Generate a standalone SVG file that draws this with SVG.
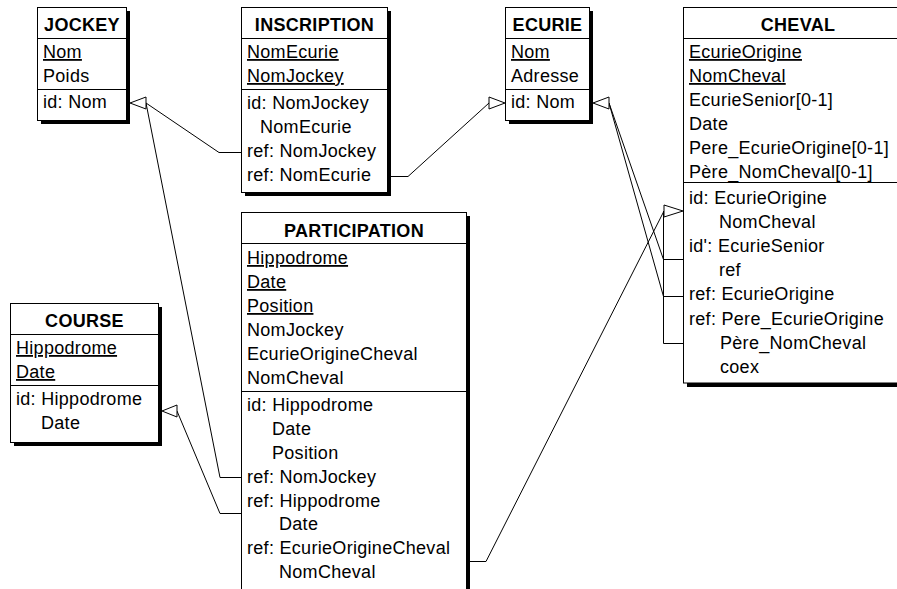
<svg xmlns="http://www.w3.org/2000/svg" width="897" height="589" viewBox="0 0 897 589">
<style>
  text { font-family: "Liberation Sans", Arial, Helvetica, sans-serif; font-size: 18px; fill: #000; letter-spacing: 0.3px; }
  .t { font-weight: bold; text-anchor: middle; }
  .u { text-decoration: underline; }
  .box { fill: #fff; stroke: #000; stroke-width: 1; }
  .sh { fill: #000; }
  .sep { stroke: #000; stroke-width: 1; fill: none; }
  #connectors path { fill: none; stroke: #000; stroke-width: 1; }
  #connectors polygon { fill: #fff; stroke: #000; stroke-width: 1; }
</style>
<rect x="0" y="0" width="897" height="589" fill="#fff"/>

<g id="connectors">
  <path d="M241,152.5 H219 L146,103"/>
  <path d="M241,477.5 H220 L146,103"/>
  <path d="M391,176.5 H408 L489,103"/>
  <path d="M683,259.5 H663.5 L609,103"/>
  <path d="M683,296.5 H663.5 L609,103"/>
  <path d="M683,343.5 H663.5 V211"/>
  <path d="M470,561.5 H486 L664,211"/>
  <path d="M241,513.5 H220 L177,411"/>
  <polygon points="130,103 146,97 146,109"/>
  <polygon points="505,103 489,97 489,109"/>
  <polygon points="593,103 609,97 609,109"/>
  <polygon points="683,211 664,205 664,217"/>
  <polygon points="162,411 177,405 177,417"/>
</g>

<g id="jockey">
  <rect class="sh" x="41" y="11" width="89" height="113"/>
  <rect class="box" x="37.5" y="7.5" width="89" height="113"/>
  <path class="sep" d="M37.5,38.5 H126.5 M37.5,89.5 H126.5"/>
  <text class="t" x="82" y="31">JOCKEY</text>
  <text class="u" x="43" y="58">Nom</text>
  <text x="43" y="82">Poids</text>
  <text x="43" y="108">id: Nom</text>
</g>

<g id="inscription">
  <rect class="sh" x="245" y="11" width="146" height="185"/>
  <rect class="box" x="241.5" y="7.5" width="146" height="185"/>
  <path class="sep" d="M241.5,38.5 H387.5 M241.5,89.5 H387.5"/>
  <text class="t" x="314.5" y="31">INSCRIPTION</text>
  <text class="u" x="247" y="58">NomEcurie</text>
  <text class="u" x="247" y="82">NomJockey</text>
  <text x="247" y="108.5">id: NomJockey</text>
  <text x="260" y="132.7">NomEcurie</text>
  <text x="247" y="157">ref: NomJockey</text>
  <text x="247" y="181">ref: NomEcurie</text>
</g>

<g id="ecurie">
  <rect class="sh" x="509" y="11" width="84" height="113"/>
  <rect class="box" x="505.5" y="7.5" width="84" height="113"/>
  <path class="sep" d="M505.5,38.5 H589.5 M505.5,89.5 H589.5"/>
  <text class="t" x="547.5" y="31">ECURIE</text>
  <text class="u" x="511" y="58">Nom</text>
  <text x="511" y="82">Adresse</text>
  <text x="511" y="108">id: Nom</text>
</g>

<g id="cheval">
  <rect class="sh" x="687" y="11" width="230" height="376"/>
  <rect class="box" x="683.5" y="7.5" width="230" height="375.5"/>
  <path class="sep" d="M683.5,38.5 H913.5 M683.5,182.5 H913.5"/>
  <text class="t" x="798" y="31">CHEVAL</text>
  <text class="u" x="689" y="58">EcurieOrigine</text>
  <text class="u" x="689" y="82">NomCheval</text>
  <text x="689" y="106">EcurieSenior[0-1]</text>
  <text x="689" y="130">Date</text>
  <text x="689" y="154">Pere_EcurieOrigine[0-1]</text>
  <text x="689" y="178">Père_NomCheval[0-1]</text>
  <text x="689" y="203.5">id: EcurieOrigine</text>
  <text x="719" y="227.7">NomCheval</text>
  <text x="689" y="251.9">id': EcurieSenior</text>
  <text x="719" y="276.1">ref</text>
  <text x="689" y="300.3">ref: EcurieOrigine</text>
  <text x="689" y="324.5">ref: Pere_EcurieOrigine</text>
  <text x="720" y="348.7">Père_NomCheval</text>
  <text x="720" y="372.9">coex</text>
</g>

<g id="course">
  <rect class="sh" x="14" y="307" width="148" height="139"/>
  <rect class="box" x="10.5" y="303.5" width="148" height="139"/>
  <path class="sep" d="M10.5,334.5 H158.5 M10.5,385.5 H158.5"/>
  <text class="t" x="84.5" y="327">COURSE</text>
  <text class="u" x="16" y="354">Hippodrome</text>
  <text class="u" x="16" y="378">Date</text>
  <text x="16" y="405">id: Hippodrome</text>
  <text x="41" y="429">Date</text>
</g>

<g id="participation">
  <rect class="sh" x="245" y="216" width="225" height="390"/>
  <rect class="box" x="241.5" y="212.5" width="225" height="390"/>
  <path class="sep" d="M241.5,243.5 H466.5 M241.5,391.5 H466.5"/>
  <text class="t" x="354" y="236.5">PARTICIPATION</text>
  <text class="u" x="247" y="264">Hippodrome</text>
  <text class="u" x="247" y="288">Date</text>
  <text class="u" x="247" y="312">Position</text>
  <text x="247" y="336">NomJockey</text>
  <text x="247" y="360">EcurieOrigineCheval</text>
  <text x="247" y="384">NomCheval</text>
  <text x="247" y="411">id: Hippodrome</text>
  <text x="272" y="435">Date</text>
  <text x="272" y="459">Position</text>
  <text x="247" y="483">ref: NomJockey</text>
  <text x="247" y="507">ref: Hippodrome</text>
  <text x="279" y="530">Date</text>
  <text x="247" y="554">ref: EcurieOrigineCheval</text>
  <text x="279" y="578">NomCheval</text>
</g>
</svg>
